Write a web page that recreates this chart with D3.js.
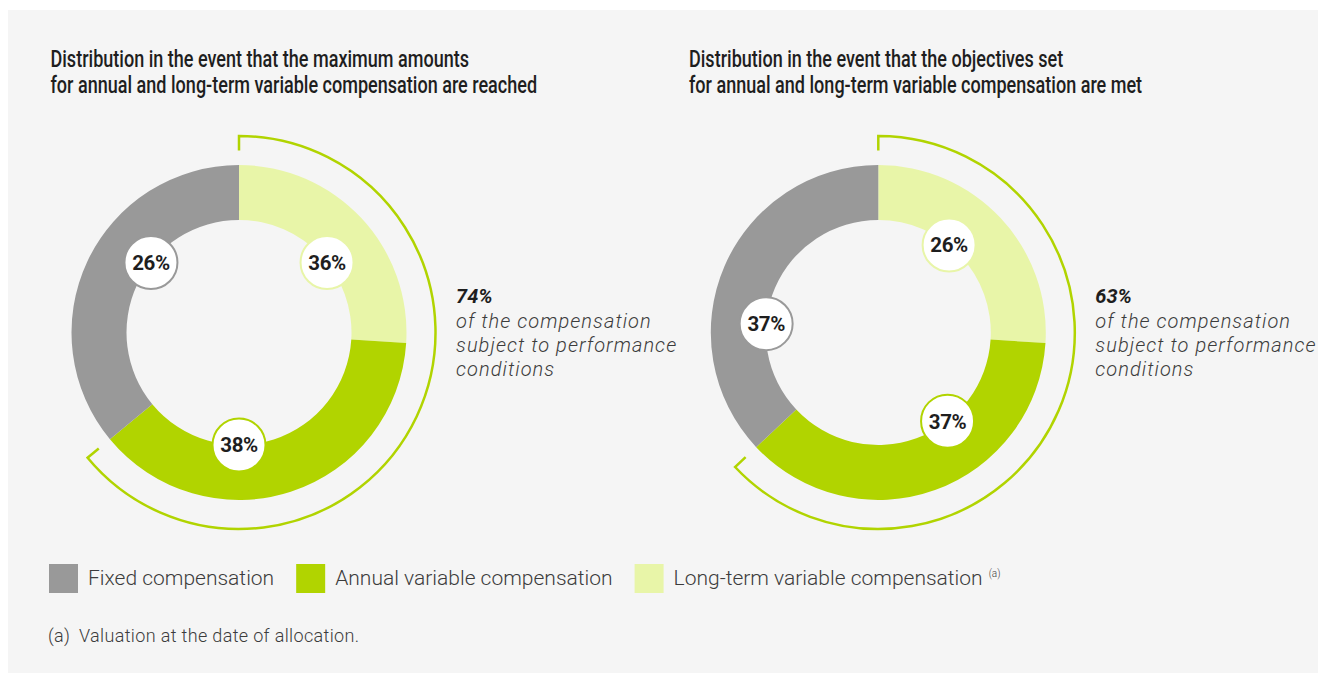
<!DOCTYPE html>
<html>
<head>
<meta charset="utf-8">
<script src="https://cdn.jsdelivr.net/npm/d3@7"></script>
<style>
  html, body { margin: 0; padding: 0; background: #ffffff; }
  svg { display: block; }
</style>
</head>
<body>
<svg id="chart" width="1318" height="673"></svg>
<script>
// colours
var grey = '#999999';
var green = '#b1d400';
var lightgreen = '#e8f5a8';
var panel = '#f5f5f5';
var ink = '#1e1e1e';
var soft = '#3c3c3c';

// data
var categories = ['Long-term variable compensation', 'Annual variable compensation', 'Fixed compensation'];
var ringColors = [lightgreen, green, grey];

var titleMax = ['Distribution in the event that the maximum amounts',
  'for annual and long-term variable compensation are reached'];
var titleMet = ['Distribution in the event that the objectives set',
  'for annual and long-term variable compensation are met'];

// ring shares as drawn (clockwise from 12 o'clock), labels and label angles (deg)
var sharesMax = [26, 38, 36];
var labelsMax = ['36%', '38%', '26%'];
var labelAngleMax = [51.5, 180, 308.5];

var sharesMet = [26, 37, 37];
var labelsMet = ['26%', '37%', '37%'];
var labelAngleMet = [39, 142, 274.5];

var performance = ['74%', '63%'];
var performanceText = ['of the compensation', 'subject to performance', 'conditions'];

var legendNames = ['Fixed compensation', 'Annual variable compensation', 'Long-term variable compensation'];
var legendColors = [grey, green, lightgreen];
var footnote = ['(a)', 'Valuation at the date of allocation.'];

var charts = [
  { title: titleMax, shares: sharesMax, labels: labelsMax, angles: labelAngleMax, perf: performance[0], cx: 239, tx: 50.5 },
  { title: titleMet, shares: sharesMet, labels: labelsMet, angles: labelAngleMet, perf: performance[1], cx: 878.3, tx: 689 }
];

var cy = 332.5;
var innerR = 112.5;
var outerR = 167.5;
var bracketR = 196.5;
var tick = 14.5;
var condensed = 0.785;

var svg = d3.select('#chart');

svg.append('rect')
  .attr('x', 8).attr('y', 10)
  .attr('width', 1310).attr('height', 663)
  .attr('fill', panel);

var pie = d3.pie().sort(null).value(function (d) { return d; });
var arc = d3.arc().innerRadius(innerR).outerRadius(outerR);
var deg = d3.scaleLinear().domain([0, 360]).range([0, Math.PI * 2]);

charts.forEach(function (c) {
  // title, drawn narrow like the condensed original
  c.title.forEach(function (line, i) {
    svg.append('text')
      .attr('transform', 'translate(' + c.tx + ',' + (66.7 + i * 26.7) + ') scale(' + condensed + ',1)')
      .attr('font-family', 'Roboto, sans-serif')
      .attr('font-weight', 500)
      .attr('font-size', '23px')
      .attr('fill', ink)
      .text(line);
  });

  var g = svg.append('g').attr('transform', 'translate(' + c.cx + ',' + cy + ')');
  var slices = pie(c.shares);

  g.selectAll('path.slice')
    .data(slices)
    .enter().append('path')
    .attr('class', 'slice')
    .attr('d', arc)
    .attr('fill', function (d, i) { return ringColors[i]; });

  // bracket over the variable parts
  var a1 = slices[1].endAngle;
  var p = d3.path();
  p.moveTo(0, -(bracketR - tick));
  p.lineTo(0, -bracketR);
  p.arc(0, 0, bracketR, -Math.PI / 2, a1 - Math.PI / 2);
  p.lineTo(Math.sin(a1) * (bracketR - tick), -Math.cos(a1) * (bracketR - tick));
  g.append('path')
    .attr('d', p.toString())
    .attr('fill', 'none')
    .attr('stroke', green)
    .attr('stroke-width', 2.5);

  // value badges
  var badge = g.selectAll('g.badge')
    .data(c.labels)
    .enter().append('g')
    .attr('class', 'badge')
    .attr('transform', function (d, i) {
      var a = deg(c.angles[i]);
      return 'translate(' + (Math.sin(a) * innerR) + ',' + (-Math.cos(a) * innerR) + ')';
    });

  badge.append('circle')
    .attr('r', 26.5)
    .attr('fill', '#ffffff')
    .attr('stroke', function (d, i) { return ringColors[i]; })
    .attr('stroke-width', 2);

  badge.append('text')
    .attr('text-anchor', 'middle')
    .attr('dy', '0.36em')
    .attr('font-family', 'Roboto, sans-serif')
    .attr('font-weight', 700)
    .attr('font-size', '20.5px')
    .attr('letter-spacing', '-0.4px')
    .attr('fill', ink)
    .text(function (d) { return d; });

  // side note
  var nx = c.cx + 217;
  svg.append('text')
    .attr('x', nx).attr('y', 303.3)
    .attr('font-family', 'Roboto, sans-serif')
    .attr('font-style', 'italic')
    .attr('font-weight', 700)
    .attr('font-size', '20px')
    .attr('fill', ink)
    .text(c.perf);

  performanceText.forEach(function (line, i) {
    svg.append('text')
      .attr('x', nx).attr('y', 328 + i * 24)
      .attr('font-family', 'Roboto, sans-serif')
      .attr('font-style', 'italic')
      .attr('font-weight', 300)
      .attr('font-size', '20px')
      .attr('letter-spacing', '1.05px')
      .attr('fill', soft)
      .text(line);
  });
});

// legend
var lx = 49;
legendNames.forEach(function (name, i) {
  svg.append('rect')
    .attr('x', lx).attr('y', 564)
    .attr('width', 29).attr('height', 29)
    .attr('fill', legendColors[i]);
  var t = svg.append('text')
    .attr('x', lx + 39).attr('y', 585)
    .attr('font-family', 'Roboto, sans-serif')
    .attr('font-weight', 300)
    .attr('font-size', '21px')
    .attr('fill', soft)
    .text(name);
  var w = t.node().getComputedTextLength();
  if (i === legendNames.length - 1) {
    svg.append('text')
      .attr('x', lx + 39 + w + 6).attr('y', 577)
      .attr('font-family', 'Roboto, sans-serif')
      .attr('font-weight', 300)
      .attr('font-size', '10px')
      .attr('fill', soft)
      .text('(a)');
  }
  lx = lx + 39 + w + 22;
});

// footnote
var fn = svg.append('text')
  .attr('x', 48).attr('y', 641.7)
  .attr('font-family', 'Roboto, sans-serif')
  .attr('font-weight', 300)
  .attr('font-size', '18px')
  .attr('letter-spacing', '0.35px')
  .attr('fill', soft);
fn.append('tspan').text(footnote[0]);
fn.append('tspan').attr('x', 79).text(footnote[1]);
</script>
</body>
</html>
